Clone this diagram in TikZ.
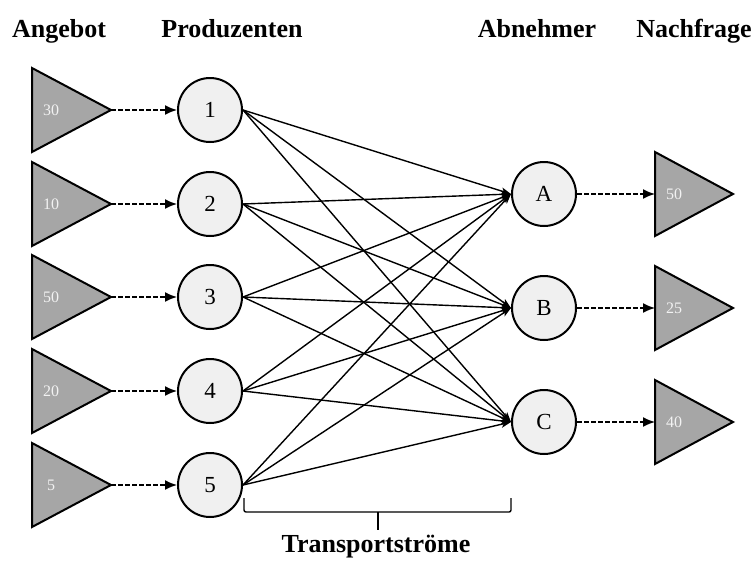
\documentclass[tikz,border=0pt]{standalone}
\usepackage{fontspec}
\setmainfont{Liberation Serif}
\usetikzlibrary{arrows.meta}
\definecolor{trigray}{HTML}{A6A6A6}
\definecolor{nodefill}{HTML}{F0F0F0}
\definecolor{qtytext}{HTML}{F2F2F2}
\begin{document}
\begin{tikzpicture}[x=1pt,y=-1pt,
  header/.style={font=\fontsize{26}{26}\selectfont\bfseries, anchor=base, inner sep=0pt},
  station/.style={circle, draw, line width=2pt, fill=nodefill, minimum size=64pt,
    inner sep=0pt, font=\fontsize{23}{23}\selectfont},
  tri/.style={draw, line width=2pt, fill=trigray, line join=miter},
  qty/.style={text=qtytext, font=\fontsize{16}{16}\selectfont, inner sep=0pt},
  feed/.style={line width=1.6pt, dash pattern=on 4.5pt off 2.5pt,
    -{Latex[length=12pt,width=10pt]}},
  flow/.style={line width=1.4pt, -{Stealth[length=10pt,width=7pt,inset=2.5pt]}},
  bracket/.style={line width=1.4pt, rounded corners=2pt}
]
\useasboundingbox (0,0) rectangle (755,560);

% column headings
\node[header] (hAng) at (59,37) {Angebot};
\node[header] (hPro) at (232,37) {Produzenten};
\node[header] (hAbn) at (537,37) {Abnehmer};
\node[header] (hNac) at (694,37) {Nachfrage};

% supply triangles and producers
\foreach \y/\v/\i in {110/30/1, 204/10/2, 297/50/3, 391/20/4, 485/5/5}{
  \draw[tri] (32,\y-42) -- (111,\y) -- (32,\y+42) -- cycle;
  \coordinate (s\i) at (111,\y);
  \node[qty] (q\i) at (51,\y) {\v};
  \node[station] (p\i) at (210,\y) {\i};
  \draw[feed] (s\i) -- (p\i);
}

% customers and demand triangles
\foreach \y/\v/\n in {194/50/A, 308/25/B, 422/40/C}{
  \node[station] (c\n) at (544,\y) {\n};
  \draw[tri] (655,\y-42) -- (733,\y) -- (655,\y+42) -- cycle;
  \coordinate (d\n) at (655,\y);
  \node[qty] (r\n) at (674,\y) {\v};
  \draw[feed] (c\n) -- (d\n);
}

% transport flows
\foreach \i in {1,...,5}{
  \foreach \n in {A,B,C}{
    \draw[flow] (p\i.east) -- (c\n.west);
  }
}

% bracket over the flows
\coordinate (bL) at (244,498);
\coordinate (bR) at (511,498);
\coordinate (bM) at (378,512);
\coordinate (bT) at (378,530);
\draw[bracket] (bL) -- (bL |- bM) -- (bR |- bM) -- (bR);
\draw[line width=1.4pt] (bM) -- (bT);
\node[header] (lTr) at (376,552) {Transportströme};
\end{tikzpicture}
\end{document}
